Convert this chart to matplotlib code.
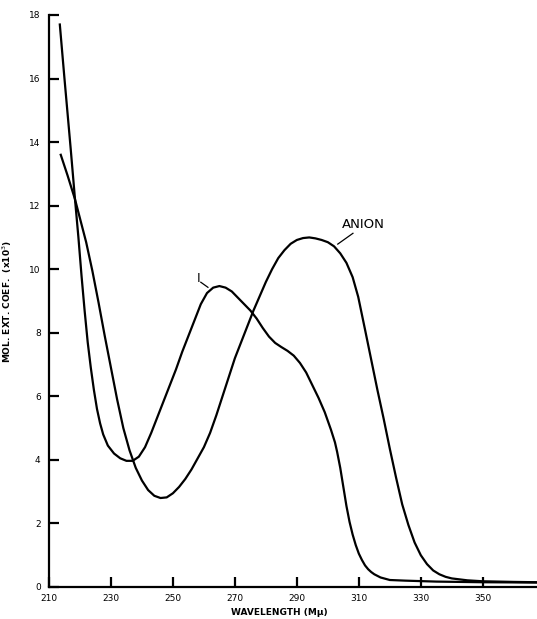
import matplotlib
matplotlib.use("Agg")
import matplotlib.pyplot as plt

# wavelength (m-mu) and mol. ext. coef. (x10^3)
wl_i = [213.5, 215, 216, 217, 218.4, 219.5, 220.5, 221.5, 222.5, 223.5, 224.5,
        225.5, 226.5, 227.5, 229, 231, 233, 235, 237, 239, 241, 243, 245, 247,
        249, 251, 253, 255, 257, 259, 261, 263, 265, 267, 269, 271, 273, 275,
        277, 279, 281, 283, 285, 287, 289, 291, 293, 295, 297, 299, 301, 302.3,
        303, 304, 305, 306, 307, 308, 309, 310, 311, 312, 313, 314, 315, 317,
        320, 325, 335, 350, 367.5]
ext_i = [17.7, 16.0, 14.9, 13.8, 12.2, 11.0, 9.8, 8.7, 7.7, 6.9, 6.2,
         5.6, 5.15, 4.8, 4.45, 4.2, 4.05, 3.97, 3.97, 4.1, 4.4, 4.85, 5.35, 5.85,
         6.35, 6.85, 7.4, 7.9, 8.4, 8.9, 9.25, 9.42, 9.47, 9.42, 9.3, 9.1, 8.9, 8.7,
         8.45, 8.15, 7.88, 7.68, 7.55, 7.43, 7.28, 7.05, 6.75, 6.35, 5.95, 5.5, 4.95, 4.55,
         4.25, 3.75, 3.15, 2.55, 2.05, 1.65, 1.32, 1.05, 0.85, 0.68, 0.56, 0.47, 0.4, 0.3,
         0.22, 0.2, 0.17, 0.15, 0.14]

wl_anion = [213.8, 216, 218.4, 220, 222, 224, 226, 228, 230, 232, 234, 236, 238,
            240, 242, 244, 246, 248, 250, 252, 254, 256, 258, 260, 262, 264, 266,
            268, 270, 272, 274, 276, 278, 280, 282, 284, 286, 288, 290, 292, 294,
            296, 298, 300, 302, 304, 306, 308, 309.8, 312, 314, 316, 318, 320, 322,
            324, 326, 328, 330, 332, 334, 336, 338, 340, 345, 350, 360, 367.5]
ext_anion = [13.6, 12.95, 12.2, 11.6, 10.85, 9.95, 8.95, 7.9, 6.9, 5.9, 5.0, 4.3, 3.75,
             3.35, 3.05, 2.87, 2.8, 2.82, 2.95, 3.15, 3.4, 3.7, 4.05, 4.4, 4.85, 5.4, 6.0,
             6.6, 7.2, 7.7, 8.2, 8.7, 9.15, 9.6, 10.0, 10.35, 10.6, 10.8, 10.92, 10.98, 11.0,
             10.97, 10.92, 10.85, 10.72, 10.5, 10.2, 9.75, 9.13, 8.1, 7.15, 6.2, 5.3, 4.35, 3.45,
             2.6, 1.95, 1.4, 1.0, 0.72, 0.52, 0.4, 0.32, 0.27, 0.21, 0.18, 0.16, 0.15]

x_ticks = [210, 230, 250, 270, 290, 310, 330, 350]
y_ticks = [0, 2, 4, 6, 8, 10, 12, 14, 16, 18]

fig = plt.figure(figsize=(5.37, 6.19), dpi=100)
ax = fig.add_axes([0.0912, 0.0517, 0.9088, 0.9241])

ax.plot(wl_i, ext_i, color='black', lw=1.6)
ax.plot(wl_anion, ext_anion, color='black', lw=1.6)

ax.set_xlim(210, 367.5)
ax.set_ylim(0, 18)
ax.set_xticks(x_ticks)
ax.set_yticks(y_ticks)
ax.tick_params(direction='in', length=7, width=1.6, labelsize=6.5, pad=6, color='black')
ax.tick_params(axis='x', pad=5)
ax.spines['top'].set_visible(False)
ax.spines['right'].set_visible(False)
ax.spines['left'].set_linewidth(1.6)
ax.spines['bottom'].set_linewidth(1.6)

ax.set_xlabel('WAVELENGTH (Mμ)', fontsize=6.5, fontweight='bold')
ax.xaxis.set_label_coords(0.471, -0.037)
ax.set_ylabel('MOL. EXT. COEF.  (x10$^3$)', fontsize=6.5, fontweight='bold')
ax.yaxis.set_label_coords(-0.072, 0.5)

# curve labels with leader lines
ax.text(258.2, 9.72, 'I', fontsize=9, ha='center', va='center')
ax.plot([259.0, 261.3], [9.59, 9.43], color='black', lw=0.9)
ax.text(311.3, 11.4, 'ANION', fontsize=9.5, ha='center', va='center')
ax.plot([308.1, 303.2], [11.13, 10.79], color='black', lw=0.9)

fig.savefig('out.png', dpi=100)
